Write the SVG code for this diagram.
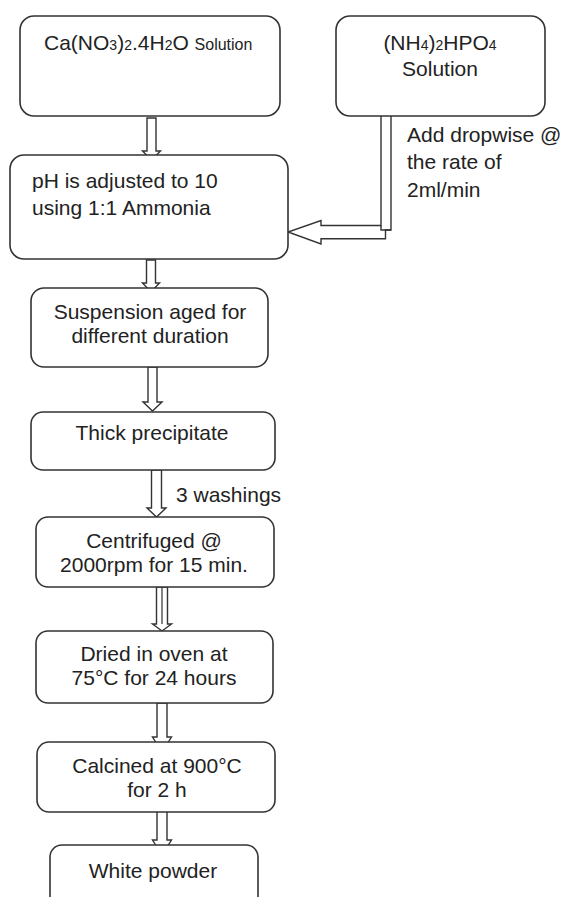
<svg xmlns="http://www.w3.org/2000/svg" width="565" height="897" viewBox="0 0 565 897">
<style>
.box{fill:#fff;stroke:#333;stroke-width:1.6}
.arr{fill:#fff;stroke:#333;stroke-width:1.4;stroke-linejoin:miter}
text{font-family:"Liberation Sans",Arial,sans-serif;font-size:21px;fill:#222}
.c{text-anchor:middle}
.sub{font-size:14px}
</style>
<rect width="565" height="897" fill="#fff"/>
<g id="connectors">
<path class="arr" d="M147,118 V151 H142.5 L151.5,160 L160.5,151 H156 V118 Z"/>
<path class="arr" d="M146.5,260 V283 H142.5 L151,292 L159.5,283 H155.5 V260 Z"/>
<path class="arr" d="M148,367 V402 H143 L152.5,411 L162,402 H157 V367 Z"/>
<path class="arr" d="M151.5,470 V508 H147 L156.5,517 L166,508 H161.5 V470 Z"/>
<path class="arr" d="M156.5,587 V624 H152.5 L162,631 L171.5,624 H167.5 V587 Z"/>
<line x1="162" y1="587" x2="162" y2="624" stroke="#333" stroke-width="1.2"/>
<path class="arr" d="M157,703 V737 H152.5 L162,752 L171.5,737 H167 V703 Z"/>
<path class="arr" d="M157,807 V840 H152.5 L162,855 L171.5,840 H167 V807 Z"/>
<path class="arr" d="M381,109 V225.5 H321 V220.5 L288,232 L321,244 V238.7 H385.5 V230 H391 V109 Z"/>
<path d="M381,225.5 V230 H391" fill="none" stroke="#333" stroke-width="1.4"/>
</g>
<g id="n1">
<rect class="box" x="20" y="16" width="260" height="100" rx="14"/>
<text x="44" y="50">Ca(NO<tspan class="sub">3</tspan>)<tspan class="sub">2</tspan>.4H<tspan class="sub">2</tspan>O <tspan font-size="16">Solution</tspan></text>
</g>
<g id="n2">
<rect class="box" x="336" y="16" width="209" height="100" rx="14"/>
<text class="c" x="440" y="50">(NH<tspan class="sub">4</tspan>)<tspan class="sub">2</tspan>HPO<tspan class="sub">4</tspan></text>
<text class="c" x="440" y="76">Solution</text>
</g>
<g id="label-dropwise">
<text x="407" y="142">Add dropwise @</text>
<text x="407" y="169">the rate of</text>
<text x="407" y="197">2ml/min</text>
</g>
<g id="n3">
<rect class="box" x="10" y="155" width="278" height="104" rx="14"/>
<text x="32" y="188">pH is adjusted to 10</text>
<text x="32" y="215">using 1:1 Ammonia</text>
</g>
<g id="n4">
<rect class="box" x="31" y="288" width="237" height="79" rx="13"/>
<text class="c" x="150" y="319">Suspension aged for</text>
<text class="c" x="150" y="343">different duration</text>
</g>
<g id="n5">
<rect class="box" x="31" y="412" width="244" height="58" rx="12"/>
<text class="c" x="152" y="440">Thick precipitate</text>
</g>
<g id="label-washings">
<text x="176" y="502">3 washings</text>
</g>
<g id="n6">
<rect class="box" x="36" y="517" width="238" height="70" rx="12"/>
<text class="c" x="154" y="548">Centrifuged @</text>
<text class="c" x="154" y="572">2000rpm for 15 min.</text>
</g>
<g id="n7">
<rect class="box" x="36" y="631" width="237" height="72" rx="12"/>
<text class="c" x="154" y="661">Dried in oven at</text>
<text class="c" x="154" y="685">75°C for 24 hours</text>
</g>
<g id="n8">
<rect class="box" x="37" y="742" width="238" height="70" rx="12"/>
<text class="c" x="157" y="773">Calcined at 900°C</text>
<text class="c" x="157" y="797">for 2 h</text>
</g>
<g id="n9">
<rect class="box" x="50" y="845" width="208" height="70" rx="12"/>
<text class="c" x="153" y="878">White powder</text>
</g>
</svg>
